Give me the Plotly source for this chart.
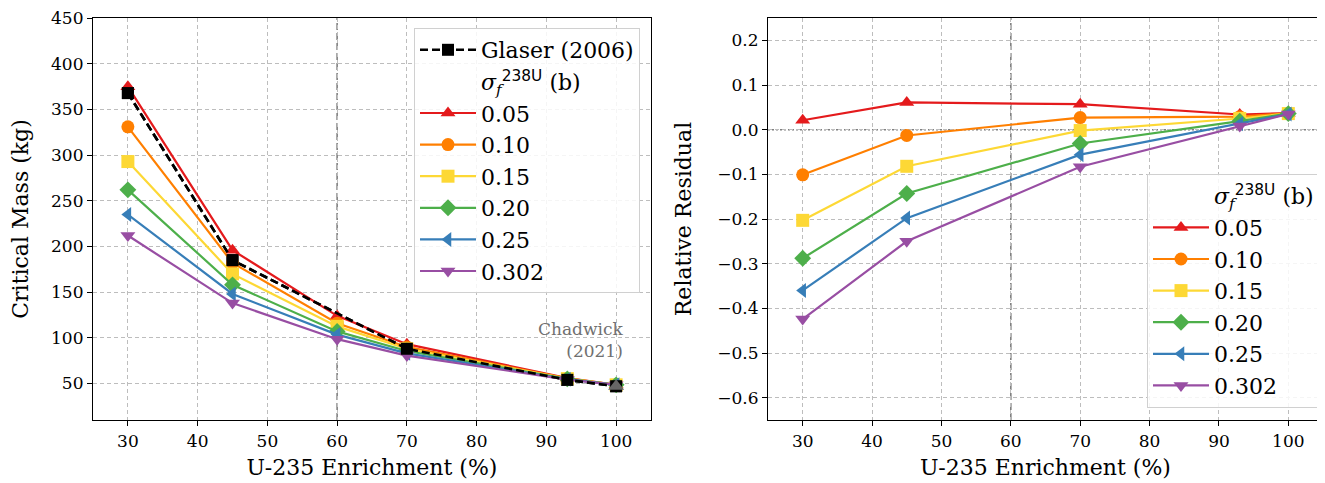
import plotly.graph_objects as go

# ---------------- data ----------------
enrich_model = [30, 45, 60, 70, 93, 100]
enrich_glaser = [30, 45, 70, 93, 100]
glaser_mass = [368, 185, 88, 54, 47]
chadwick_x = [100]
chadwick_mass = [47]

sigma_labels = ["0.05", "0.10", "0.15", "0.20", "0.25", "0.302"]
mass_005 = [375, 196, 124, 93, 56, 48.5]
mass_010 = [331, 182, 116, 90, 55.5, 48.5]
mass_015 = [293, 170, 112.5, 88, 55.3, 48.5]
mass_020 = [262, 158, 107, 85.5, 55, 48.5]
mass_025 = [235, 148, 103.5, 83, 54.6, 48.5]
mass_0302 = [212, 138, 98.5, 80.5, 54.3, 48.5]
masses = [mass_005, mass_010, mass_015, mass_020, mass_025, mass_0302]

resid_005 = [0.021, 0.061, 0.057, 0.034, 0.037]
resid_010 = [-0.101, -0.013, 0.027, 0.029, 0.037]
resid_015 = [-0.203, -0.082, -0.002, 0.025, 0.036]
resid_020 = [-0.288, -0.143, -0.031, 0.019, 0.036]
resid_025 = [-0.360, -0.198, -0.056, 0.013, 0.035]
resid_0302 = [-0.424, -0.250, -0.083, 0.008, 0.035]
resids = [resid_005, resid_010, resid_015, resid_020, resid_025, resid_0302]

colors = ["#e41a1c", "#ff7f00", "#fdd835", "#4daf4a", "#377eb8", "#984ea3"]
symbols = ["triangle-up", "circle", "square", "diamond", "triangle-left", "triangle-down"]

FONT = "DejaVu Serif"
header = ("<i>σ</i><sub><i>f</i></sub><sup><span style='font-family:DejaVu Sans'>238U</span></sup> (b)")

# page offset (body margin) compensation
OFF = 8
W, H = 1325 - OFF, 483 - OFF


def px(p):
    return (p - OFF) / W


def py(p):
    return 1 - (p - OFF) / H


fig = go.Figure()

# ---- left panel ----
fig.add_trace(go.Scatter(
    x=enrich_glaser, y=glaser_mass, mode="lines+markers", name="Glaser (2006)",
    line=dict(color="black", width=2.6, dash="8px,4px"),
    marker=dict(symbol="square", size=12, color="black"),
    xaxis="x", yaxis="y", legend="legend"))
fig.add_trace(go.Scatter(
    x=[None], y=[None], mode="lines", name=header,
    line=dict(color="rgba(0,0,0,0)"), xaxis="x", yaxis="y", legend="legend"))
for lab, m, c, s in zip(sigma_labels, masses, colors, symbols):
    fig.add_trace(go.Scatter(
        x=enrich_model, y=m, mode="lines+markers", name=lab,
        line=dict(color=c, width=2.2), marker=dict(symbol=s, size=13, color=c),
        xaxis="x", yaxis="y", legend="legend"))
# redraw Glaser on top
fig.add_trace(go.Scatter(
    x=enrich_glaser, y=glaser_mass, mode="lines+markers", showlegend=False,
    line=dict(color="black", width=2.6, dash="8px,4px"),
    marker=dict(symbol="square", size=12, color="black"),
    xaxis="x", yaxis="y", hoverinfo="skip"))
fig.add_trace(go.Scatter(
    x=chadwick_x, y=chadwick_mass, mode="markers", showlegend=False,
    marker=dict(symbol="triangle-up", size=14, color="#666666"),
    xaxis="x", yaxis="y"))

# ---- right panel ----
fig.add_trace(go.Scatter(
    x=[None], y=[None], mode="lines", name=header,
    line=dict(color="rgba(0,0,0,0)"), xaxis="x2", yaxis="y2", legend="legend2"))
for lab, r, c, s in zip(sigma_labels, resids, colors, symbols):
    fig.add_trace(go.Scatter(
        x=enrich_glaser, y=r, mode="lines+markers", name=lab,
        line=dict(color=c, width=2.2), marker=dict(symbol=s, size=13, color=c),
        xaxis="x2", yaxis="y2", legend="legend2"))

axis_common = dict(
    showline=True, linecolor="black", linewidth=1.2, mirror=True,
    ticks="outside", ticklen=5, tickcolor="black", automargin=False,
    showgrid=True, gridcolor="#bdbdbd", griddash="4px,3px", gridwidth=1,
    zeroline=False, tickfont=dict(family=FONT, size=17, color="black"),
)
title_font = dict(family=FONT, size=22, color="black")

fig.update_layout(
    width=W, height=H,
    paper_bgcolor="white", plot_bgcolor="white",
    margin=dict(l=0, r=0, t=0, b=0, autoexpand=False),
    font=dict(family=FONT, color="black"),
    xaxis=dict(domain=[px(93), px(651)], range=[25, 105], dtick=10, tick0=0,
               title=dict(text="U-235 Enrichment (%)", font=title_font, standoff=10),
               anchor="y", **axis_common),
    yaxis=dict(domain=[py(420), py(18)], range=[10, 450.2], dtick=50, tick0=0,
               title=dict(text="Critical Mass (kg)", font=title_font, standoff=18),
               anchor="x", **axis_common),
    xaxis2=dict(domain=[px(768), px(1323)], range=[25, 105], dtick=10, tick0=0,
                title=dict(text="U-235 Enrichment (%)", font=title_font, standoff=10),
                anchor="y2", **axis_common),
    yaxis2=dict(domain=[py(420), py(18)], range=[-0.65, 0.25], dtick=0.1, tick0=0,
                tickformat=".1f",
                title=dict(text="Relative Residual", font=title_font, standoff=19),
                anchor="x2", **axis_common),
    legend=dict(x=px(640), y=py(28), xanchor="right", yanchor="top",
                bgcolor="rgba(255,255,255,0.85)", bordercolor="#d0d0d0", borderwidth=1,
                font=dict(family=FONT, size=22), itemwidth=56),
    legend2=dict(x=px(1320), y=py(408), xanchor="right", yanchor="bottom",
                 bgcolor="rgba(255,255,255,0.85)", bordercolor="#d0d0d0", borderwidth=1,
                 font=dict(family=FONT, size=22), itemwidth=56),
    showlegend=True,
)

# vertical dashed line at 60% and horizontal dotted line at 0
fig.add_shape(type="line", xref="x", yref="y domain", x0=60, x1=60, y0=0, y1=1,
              line=dict(color="#808080", width=1.6, dash="7px,3px"), layer="below")
fig.add_shape(type="line", xref="x2", yref="y2 domain", x0=60, x1=60, y0=0, y1=1,
              line=dict(color="#808080", width=1.6, dash="7px,3px"), layer="below")
fig.add_shape(type="line", xref="x2 domain", yref="y2", x0=0, x1=1, y0=0, y1=0,
              line=dict(color="#808080", width=1.5, dash="2px,2px"), layer="below")

fig.add_annotation(x=101.3, y=98, xref="x", yref="y", text="Chadwick<br>(2021)",
                   showarrow=False, xanchor="right", align="right",
                   font=dict(family=FONT, size=17, color="#707070"))

fig.write_html("out.html")
